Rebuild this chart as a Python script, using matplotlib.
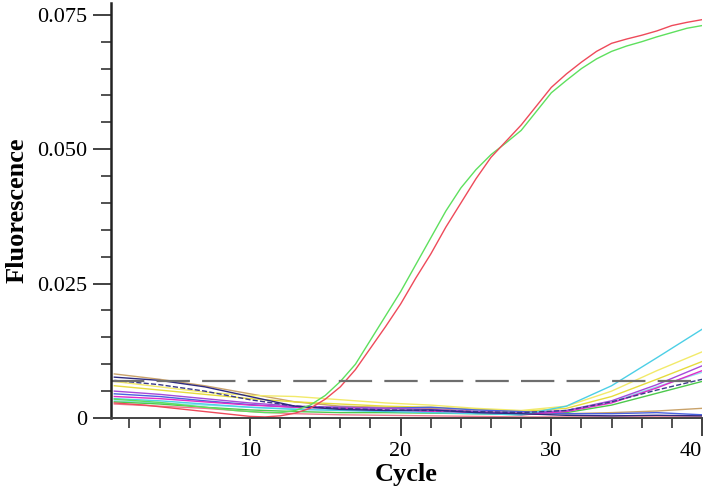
import numpy as np
import matplotlib
matplotlib.use("Agg")
import matplotlib.pyplot as plt
from matplotlib.ticker import MultipleLocator, FixedLocator

# amplification curves, one value per cycle (1..40)
cycles = np.arange(1, 41)
red_vals = [0.0028, 0.0026, 0.0024, 0.0021, 0.0018, 0.0015, 0.0012, 0.0009, 0.0006, 0.0003,
            0.0002, 0.0004, 0.0009, 0.0018, 0.0035, 0.0058, 0.0090, 0.0130, 0.0170, 0.0212,
            0.0260, 0.0305, 0.0355, 0.0400, 0.0445, 0.0485, 0.0515, 0.0545, 0.0580, 0.0615,
            0.0640, 0.0662, 0.0682, 0.0697, 0.0705, 0.0712, 0.0720, 0.0730, 0.0736, 0.0741]
green_vals = [0.0035, 0.0033, 0.0031, 0.0029, 0.0026, 0.0023, 0.0020, 0.0017, 0.0014, 0.0012,
              0.0010, 0.0010, 0.0014, 0.0024, 0.0042, 0.0068, 0.0100, 0.0145, 0.0190, 0.0235,
              0.0285, 0.0335, 0.0385, 0.0428, 0.0462, 0.0490, 0.0512, 0.0535, 0.0570, 0.0605,
              0.0628, 0.0650, 0.0668, 0.0682, 0.0692, 0.0700, 0.0709, 0.0717, 0.0725, 0.0730]

# baseline / late curves, sampled every 3 cycles
base_cycles = [1, 4, 7, 10, 13, 16, 19, 22, 25, 28, 31, 34, 37, 40]
navy = [0.0076, 0.0070, 0.0058, 0.0040, 0.0022, 0.0016, 0.0014, 0.0015, 0.0010, 0.0008, 0.0005, 0.0004, 0.0005, 0.0004]
brown = [0.0082, 0.0072, 0.0060, 0.0045, 0.0030, 0.0022, 0.0020, 0.0018, 0.0012, 0.0010, 0.0008, 0.0010, 0.0013, 0.0018]
yellow = [0.0068, 0.0058, 0.0048, 0.0042, 0.0040, 0.0034, 0.0028, 0.0024, 0.0018, 0.0014, 0.0022, 0.0050, 0.0088, 0.0123]
gold = [0.0060, 0.0052, 0.0044, 0.0036, 0.0030, 0.0026, 0.0022, 0.0020, 0.0016, 0.0012, 0.0018, 0.0040, 0.0072, 0.0105]
purple = [0.0050, 0.0044, 0.0036, 0.0028, 0.0022, 0.0020, 0.0018, 0.0016, 0.0012, 0.0009, 0.0014, 0.0032, 0.0062, 0.0097]
magenta = [0.0040, 0.0036, 0.0030, 0.0024, 0.0020, 0.0018, 0.0014, 0.0012, 0.0010, 0.0006, 0.0012, 0.0028, 0.0056, 0.0088]
cyan = [0.0036, 0.0032, 0.0026, 0.0020, 0.0016, 0.0014, 0.0012, 0.0010, 0.0008, 0.0006, 0.0022, 0.0060, 0.0112, 0.0165]
lightblue = [0.0032, 0.0028, 0.0024, 0.0020, 0.0017, 0.0015, 0.0013, 0.0011, 0.0009, 0.0008, 0.0014, 0.0030, 0.0058, 0.0085]
green2 = [0.0030, 0.0026, 0.0020, 0.0015, 0.0012, 0.0010, 0.0010, 0.0009, 0.0008, 0.0006, 0.0010, 0.0024, 0.0046, 0.0068]
pink = [0.0026, 0.0022, 0.0018, 0.0012, 0.0008, 0.0006, 0.0005, 0.0004, 0.0003, 0.0002, 0.0002, 0.0002, 0.0002, 0.0002]
blue = [0.0045, 0.0040, 0.0032, 0.0025, 0.0020, 0.0020, 0.0018, 0.0020, 0.0015, 0.0012, 0.0008, 0.0008, 0.0010, 0.0006]
navy2 = [0.0070, 0.0062, 0.0050, 0.0034, 0.0022, 0.0018, 0.0015, 0.0014, 0.0012, 0.0010, 0.0014, 0.0030, 0.0052, 0.0072]

threshold = 0.0069

base_series = [
    (brown, "#c9a26a", "-"),
    (yellow, "#f2ea6a", "-"),
    (gold, "#e6dc3c", "-"),
    (lightblue, "#8fe3f2", "-"),
    (green2, "#4cc94c", "-"),
    (pink, "#f07890", "-"),
    (blue, "#4a62e0", "-"),
    (magenta, "#e02cc8", "-"),
    (purple, "#a64ad8", "-"),
    (cyan, "#4ccfe6", "-"),
    (navy2, "#3a3a8a", "--"),
    (navy, "#2e2a80", "-"),
]

plt.rcParams["font.family"] = ["Liberation Serif", "DejaVu Serif"]

fig = plt.figure(figsize=(7.06, 4.98), dpi=100)
ax = fig.add_axes([111 / 706, 80 / 498, 591 / 706, 415 / 498])

for vals, col, ls in base_series:
    ax.plot(base_cycles, vals, color=col, lw=1.0, ls=ls)

ax.plot(cycles, green_vals, color="#5ee05e", lw=1.0)
ax.plot(cycles, red_vals, color="#ee4a5a", lw=1.0)

ax.axhline(threshold, color="#6e6e6e", lw=1.6, ls=(0, (15, 5.5)))

ax.set_xlim(0.78, 40)
ax.set_ylim(0, 0.0772)

ax.xaxis.set_major_locator(FixedLocator([10, 20, 30, 40]))
ax.xaxis.set_minor_locator(FixedLocator([2, 4, 6, 8, 12, 14, 16, 18, 22, 24, 26, 28, 32, 34, 36, 38]))
ax.yaxis.set_major_locator(FixedLocator([0, 0.025, 0.05, 0.075]))
ax.yaxis.set_minor_locator(MultipleLocator(0.005))
ax.set_yticklabels(["0", "0.025", "0.050", "0.075"])

ax.tick_params(which="major", length=13, width=1.3, color="#333333", labelsize=16, pad=4)
ax.tick_params(which="minor", length=7, width=1.2, color="#333333")

# last x label sits flush against the right edge, as in the original
ax.get_xticklabels()[-1].set_horizontalalignment("right")

for s in ["top", "right"]:
    ax.spines[s].set_visible(False)
ax.spines["left"].set_color("#222222")
ax.spines["left"].set_linewidth(1.8)
ax.spines["bottom"].set_color("#444444")
ax.spines["bottom"].set_linewidth(1.4)

ax.set_xlabel("Cycle", fontsize=19, fontweight="bold", labelpad=2)
ax.set_ylabel("Fluorescence", fontsize=19, fontweight="bold", labelpad=6)

fig.savefig("out.png", dpi=100)
